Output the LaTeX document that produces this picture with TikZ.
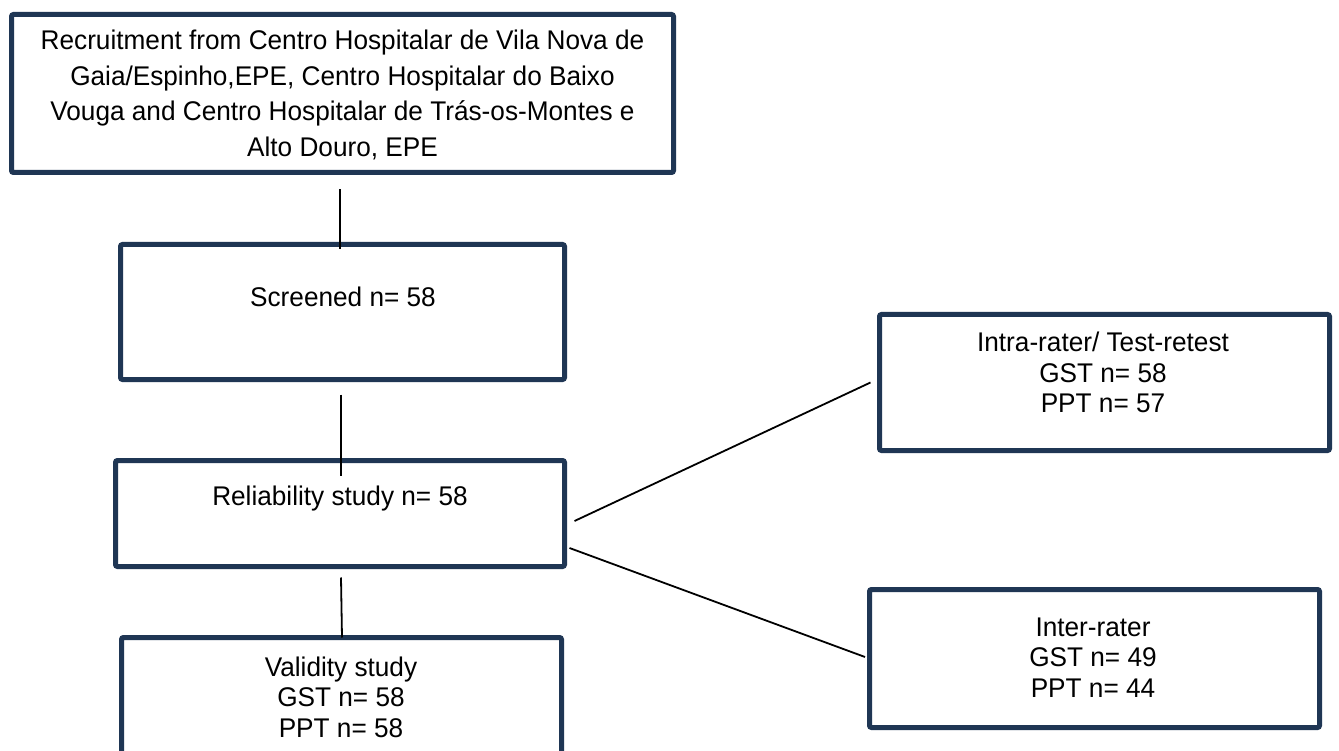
\documentclass[tikz,border=0pt]{standalone}
\usepackage{fontspec}
\setmainfont{Liberation Sans}[FakeStretch=0.97]
\definecolor{navy}{RGB}{31,54,84}
\begin{document}
\begin{tikzpicture}[x=1pt,y=-1pt,
  box/.style={draw=navy,line width=5pt,rounded corners=2pt,inner sep=0pt,fill=white},
  txt/.style={font=\fontsize{27}{30.5}\selectfont,align=center,inner sep=0pt},
  conn/.style={draw=black,line width=1.8pt}]
\useasboundingbox (0,0) rectangle (1339,751);
\clip (0,0) rectangle (1339,751);
\fill[white] (0,0) rectangle (1339,751);
% boxes
\node[box,minimum width=662pt,minimum height=158pt] (top) at (342.5,93.5) {};
\node[box,minimum width=444pt,minimum height=135pt] (scr) at (342.5,312) {};
\node[box,minimum width=449pt,minimum height=106pt] (rel) at (340,513.5) {};
\node[box,minimum width=440pt,minimum height=162.5pt] (val) at (341.5,718.75) {};
\node[box,minimum width=450pt,minimum height=136pt] (intra) at (1104.5,382.5) {};
\node[box,minimum width=450pt,minimum height=138pt] (inter) at (1094.5,658.5) {};
% texts
\node[txt,font=\fontsize{27}{35.5}\selectfont] (toptxt) at (342.5,95) {Recruitment from Centro Hospitalar de Vila Nova de\\Gaia/Espinho,EPE, Centro Hospitalar do Baixo\\Vouga and Centro Hospitalar de Trás-os-Montes e\\Alto Douro, EPE};
\node[txt] (scrtxt) at (343,297) {Screened n= 58};
\node[txt] (reltxt) at (340,499) {Reliability study n= 58};
\node[txt] (valtxt) at (341,697) {Validity study\\GST n= 58\\PPT n= 58};
\node[txt] (intratxt) at (1103,372.5) {Intra-rater/ Test-retest\\GST n= 58\\PPT n= 57};
\node[txt] (intertxt) at (1093,657.5) {Inter-rater\\GST n= 49\\PPT n= 44};
% connectors
\draw[conn] ([xshift=-2.5pt,yshift=-14.5pt]top.south) -- ([xshift=-2.5pt,yshift=-7.5pt]scr.north);
\draw[conn] ([xshift=-1.5pt,yshift=-12.5pt]scr.south) -- ([xshift=1pt,yshift=-17.5pt]rel.north);
\draw[conn] ([xshift=1pt,yshift=-8.5pt]rel.south) -- ([xshift=0.5pt,yshift=-2.5pt]val.north);
\draw[conn] ([xshift=7.5pt,yshift=-7.5pt]rel.east) -- ([xshift=-6.5pt]intra.west);
\draw[conn] ([xshift=2.5pt,yshift=-34.5pt]rel.east) -- ([xshift=-2pt,yshift=1.5pt]inter.west);
\end{tikzpicture}
\end{document}
